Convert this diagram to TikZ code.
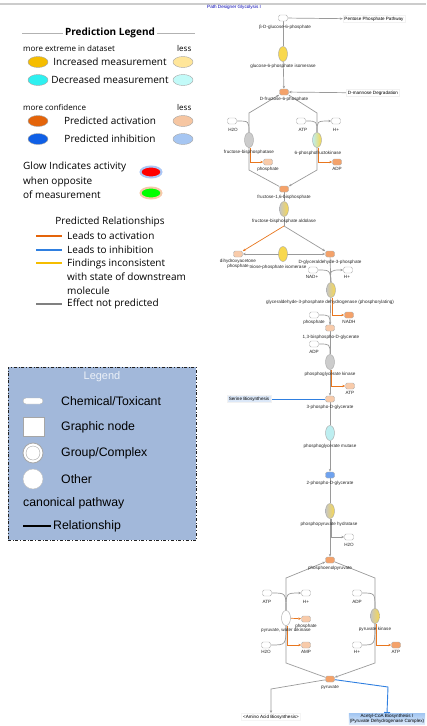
\documentclass[tikz,border=0pt]{standalone}
\usepackage{fontspec}
\setmainfont{Liberation Sans}
\newfontfamily\legfont{Open Sans}
\usetikzlibrary{shapes,arrows.meta,positioning,backgrounds,calc}

\definecolor{incdark}{HTML}{F5BD00}
\definecolor{inclight}{HTML}{FFE69A}
\definecolor{decdark}{HTML}{2EF0F0}
\definecolor{declight}{HTML}{C2FAF8}
\definecolor{actdark}{HTML}{E4640A}
\definecolor{actlight}{HTML}{F6C6A2}
\definecolor{inhdark}{HTML}{0F5FE6}
\definecolor{inhlight}{HTML}{A6C6F2}
\definecolor{legbox}{HTML}{A2B8DA}
\definecolor{molorange}{HTML}{F4A26A}
\definecolor{mollight}{HTML}{F8CBAA}
\definecolor{molblue}{HTML}{6FA2EE}
\definecolor{enzyellow}{HTML}{F8D84E}
\definecolor{enzcyan}{HTML}{BDEEF0}
\definecolor{linkgray}{HTML}{9A9A9A}
\definecolor{linkorange}{HTML}{E8761E}
\definecolor{linkblue}{HTML}{2F7FE0}
\definecolor{pathblue}{HTML}{DCE8F8}

\tikzset{
  meas/.style={ellipse, minimum width=20pt, minimum height=11pt, inner sep=0pt, draw=gray!70, fill=#1},
  legtext/.style={font=\legfont\fontsize{10}{14.5}\selectfont, inner sep=0pt},
  smalltext/.style={font=\legfont\fontsize{8}{9.6}\selectfont, anchor=west, inner sep=0pt},
  boxtext/.style={font=\fontsize{12.3}{14}\selectfont, anchor=west, inner sep=0pt},
  rel/.style={line width=2pt, draw=#1},
  mol/.style={rectangle, rounded corners=1.5pt, minimum width=9pt, minimum height=6pt, inner sep=0pt, draw=gray!60, fill=#1},
  mol/.default=white,
  enz/.style={ellipse, minimum width=9pt, minimum height=15pt, inner sep=0pt, draw=gray!70, fill=#1},
  enz/.default=white,
  enzg/.style={ellipse, minimum width=9pt, minimum height=15pt, inner sep=0pt, draw=gray!70, left color=gray!45, right color=#1},
  lbl/.style={font=\fontsize{4.6}{5.4}\selectfont, inner sep=0pt, text=black!85},
  cpath/.style={font=\fontsize{4.6}{5.4}\selectfont, inner sep=1.5pt, draw=gray!10, fill=#1},
  link/.style={draw=linkgray, line width=0.7pt},
  actlink/.style={draw=linkorange, line width=0.7pt},
  inhlink/.style={draw=linkblue, line width=0.9pt},
}

\begin{document}
\begin{tikzpicture}[x=1pt, y=-1pt, >={Stealth[length=3pt,width=2.4pt]}]
\useasboundingbox (0,0) rectangle (426,726);

% Header
\draw[gray!40, line width=1.5pt] (0,4) -- (426,4);
\node[lbl, anchor=west, text=blue!70!black] (title) at (207,7) {Path Designer Glycolysis I};

% Prediction legend
\node[legtext, font=\legfont\bfseries\fontsize{10}{12}\selectfont] (predT) at (110,33) {Prediction Legend};
\coordinate (predL) at (22,33);
\coordinate (predR) at (195,33);
\draw[gray!60, line width=1pt] (predL) -- ([xshift=-2pt]predT.west);
\draw[gray!60, line width=1pt] ([xshift=2pt]predT.east) -- (predR);

\node[smalltext] (extT) at (23,48) {more extreme in dataset};
\node[smalltext] (extL) at (177,48) {less};
\foreach \name/\y/\dark/\light/\txt in {inc/62/incdark/inclight/Increased measurement,
                                        dec/80/decdark/declight/Decreased measurement,
                                        act/121/actdark/actlight/Predicted activation,
                                        inh/139/inhdark/inhlight/Predicted inhibition} {
  \node[meas=\dark] (\name D) at (38,\y) {};
  \node[legtext] (\name T) at (110,\y) {\txt};
  \node[meas=\light] (\name L) at (183,\y) {};
}
\node[smalltext] (confT) at (23,107) {more confidence};
\node[smalltext] (confL) at (177,107) {less};

% Glow
\node[legtext, anchor=west, align=left] (glowT) at (23,180.5) {Glow Indicates activity\\when opposite\\of measurement};
\node[meas=red, draw=inhdark!35, line width=2pt, minimum width=21pt] (glowR) at (151,172) {};
\node[meas=green, draw=actdark!35, line width=2pt, minimum width=21pt] (glowG) at (151,193) {};

% Predicted relationships
\node[legtext] (relT) at (110,222) {Predicted Relationships};
\foreach \y/\col in {236/actdark, 250/linkblue, 263/incdark, 304/gray}
  \draw[rel=\col] (36,\y) -- (62,\y);
\node[legtext, anchor=west] (relA) at (67,236) {Leads to activation};
\node[legtext, anchor=west] (relI) at (67,250) {Leads to inhibition};
\node[legtext, anchor=west, align=left, font=\legfont\fontsize{10}{14}\selectfont] (relF) at (67,277) {Findings inconsistent\\with state of downstream\\molecule};
\node[legtext, anchor=west] (relN) at (67,304) {Effect not predicted};

% Shape legend
\node[draw=gray!25!black, dash dot, line width=0.7pt, fill=legbox, minimum width=188pt, minimum height=173pt, inner sep=0pt] (legbox) at (102,453.5) {};
\node[font=\fontsize{11}{13}\selectfont, text=white!80!legbox, inner sep=0pt] (legT) at (102,377) {Legend};
\node[mol, minimum width=20pt, minimum height=6pt, rounded corners=3pt] (chemI) at (33,401) {};
\node[rectangle, draw=gray!70, fill=white, minimum width=21pt, minimum height=19pt, inner sep=0pt] (graphI) at (33.5,427) {};
\node[circle, draw=gray!70, fill=white, minimum size=20pt, inner sep=0pt, line width=0.8pt] (groupI) at (33,453) {};
\node[circle, draw=gray!70, minimum size=14pt, inner sep=0pt] (groupJ) at (33,453) {};
\node[circle, draw=gray!50, fill=white, minimum size=20pt, inner sep=0pt] (otherI) at (33,479) {};
\node[boxtext] (chemT) at (61,401) {Chemical/Toxicant};
\node[boxtext] (graphT) at (61,427) {Graphic node};
\node[boxtext] (groupT) at (61,453) {Group/Complex};
\node[boxtext] (otherT) at (61,479) {Other};
\node[boxtext] (canT) at (23,503) {canonical pathway};
\draw[black, line width=1.3pt] (23,526) -- (51,526);
\node[boxtext] (relshipT) at (53,526) {Relationship};

% Upper glycolysis
\node[mol] (b6p) at (283,18) {};
\node[lbl] (b6pL) at (285,27) {β-D-glucose-6-phosphate};
\node[cpath=white] (ppp) at (374,19) {Pentose Phosphate Pathway};
\node[enz=enzyellow] (gpi) at (283,54) {};
\node[lbl] (gpiL) at (283,66) {glucose-6-phosphate isomerase};
\node[mol=molorange] (f6p) at (284,92) {};
\node[lbl] (f6pL) at (284,99) {D-fructose-6-phosphate};
\node[cpath=white] (mann) at (373,93) {D-mannose Degradation};

\coordinate (fbpT) at (249,113);
\coordinate (pfkT) at (317,113);
\coordinate (fbpB) at (249,170);
\coordinate (pfkB) at (317,170);
\node[mol] (h2oA) at (232,121) {};
\node[lbl] (h2oAL) at (233,130) {H2O};
\node[mol] (atpA) at (301,121) {};
\node[lbl] (atpAL) at (303,130) {ATP};
\node[mol] (hA) at (336,121) {};
\node[lbl] (hAL) at (336,130) {H+};
\node[enz=gray!40] (fbp) at (249,140) {};
\node[lbl] (fbpL) at (249,152) {fructose-bisphosphatase};
\node[enz, left color=enzcyan, right color=enzyellow] (pfk) at (317,140) {};
\node[lbl] (pfkL) at (318,153) {6-phosphofructokinase};
\node[mol=mollight] (piA) at (268,162) {};
\node[lbl] (piAL) at (268,169) {phosphate};
\node[mol=molorange] (adpA) at (337,162) {};
\node[lbl] (adpAL) at (337,169) {ADP};
\node[mol=molorange] (f16bp) at (284,189) {};
\node[lbl] (f16bpL) at (284,197) {fructose-1,6-bisphosphate};

\node[enzg=enzyellow] (ald) at (284,209) {};
\node[lbl] (aldL) at (284,221) {fructose-bisphosphate aldolase};
\coordinate (aldB) at (284,226);
\node[mol=mollight] (dhap) at (238,254) {};
\node[lbl, align=center] (dhapL) at (238,264) {dihydroxyacetone\\phosphate};
\node[enz=enzyellow] (tpi) at (283,254) {};
\node[lbl] (tpiL) at (278,267) {triose-phosphate isomerase};
\node[mol=molorange] (gap) at (330,254) {};
\node[lbl] (gapL) at (330,262) {D-glyceraldehyde-3-phosphate};

% Lower glycolysis
\node[mol] (nad) at (313,270) {};
\node[lbl] (nadL) at (312,277) {NAD+};
\node[mol] (hB) at (348,270) {};
\node[lbl] (hBL) at (347,277) {H+};
\node[enzg=enzyellow] (gapdh) at (331,290) {};
\node[lbl] (gapdhL) at (330,302) {glyceraldehyde-3-phosphate dehydrogenase (phosphorylating)};
\node[mol] (piB) at (314,315) {};
\node[lbl] (piBL) at (314,322) {phosphate};
\node[mol=molorange] (nadh) at (349,315) {};
\node[lbl] (nadhL) at (349,322) {NADH};
\node[mol=mollight] (bpg) at (330,328) {};
\node[lbl] (bpgL) at (331,337) {1,3-bisphospho-D-glycerate};
\node[mol] (adpB) at (314,344) {};
\node[lbl] (adpBL) at (314,352) {ADP};
\node[enz=gray!40] (pgk) at (330,362) {};
\node[lbl] (pgkL) at (330,374) {phosphoglycerate kinase};
\node[mol=mollight] (atpB) at (350,386) {};
\node[lbl] (atpBL) at (350,393) {ATP};
\node[mol=mollight] (pg3) at (330,399) {};
\node[lbl] (pg3L) at (330,407) {3-phospho-D-glycerate};
\node[cpath=pathblue] (ser) at (249,399) {Serine Biosynthesis};
\node[enz=enzcyan] (pgm) at (330,433) {};
\node[lbl] (pgmL) at (330,446) {phosphoglycerate mutase};
\node[mol=molblue] (pg2) at (330,475) {};
\node[lbl] (pg2L) at (330,483) {2-phospho-D-glycerate};
\node[enzg=enzyellow] (eno) at (330,511) {};
\node[lbl] (enoL) at (329,524) {phosphopyruvate hydratase};
\node[mol] (h2oB) at (349,537) {};
\node[lbl] (h2oBL) at (349,545) {H2O};
\node[mol=molorange] (pep) at (330,560) {};
\node[lbl] (pepL) at (330,568) {phosphoenolpyruvate};

% Pyruvate branch
\coordinate (ppdkT) at (286,578);
\coordinate (pkT) at (375,578);
\coordinate (ppdkB) at (286,663);
\coordinate (pkB) at (375,663);
\node[mol] (atpC) at (267,593) {};
\node[lbl] (atpCL) at (267,602) {ATP};
\node[mol] (hC) at (306,593) {};
\node[lbl] (hCL) at (306,602) {H+};
\node[mol] (adpC) at (357,593) {};
\node[lbl] (adpCL) at (357,602) {ADP};
\node[enz=white] (ppdk) at (286,618) {};
\node[lbl] (ppdkL) at (286,630.5) {pyruvate, water dikinase};
\node[mol=mollight] (piC) at (306,619) {};
\node[lbl] (piCL) at (306,626) {phosphate};
\node[enzg=enzyellow] (pk) at (375,616) {};
\node[lbl] (pkL) at (375,629) {pyruvate kinase};
\node[mol] (h2oC) at (266,645) {};
\node[lbl] (h2oCL) at (266,652) {H2O};
\node[mol=mollight] (ampC) at (306,645) {};
\node[lbl] (ampCL) at (306,652) {AMP};
\node[mol] (hD) at (357,645) {};
\node[lbl] (hDL) at (357,652) {H+};
\node[mol=molorange] (atpD) at (396,645) {};
\node[lbl] (atpDL) at (396,652) {ATP};
\node[mol=molorange] (pyr) at (330,679) {};
\node[lbl] (pyrL) at (330,687) {pyruvate};
\coordinate (aabC) at (271,689);
\coordinate (acC) at (388,687);
\node[cpath=white, draw=gray!8] (aab) at (271,717) {<Amino Acid Biosynthesis>};
\node[cpath, draw=none, top color=linkblue!45, bottom color=linkblue!15, align=center, inner sep=1pt] (acoa) at (387,719) {Acetyl-CoA Biosynthesis I\\(Pyruvate Dehydrogenase Complex)};

% Connectors
\begin{scope}[on background layer]
  \draw[link] (b6p) -- (gpi);
  \draw[link,->] (gpi) -- (f6p);
  \draw[link,->] (b6p) -- (ppp);
  \draw[link,->] (mann) -- (f6p);
  \draw[link,->] (f16bp) -- (fbpB) -- (fbpT) -- (f6p);
  \draw[link,->] (f6p) -- (pfkT) -- (pfkB) -- (f16bp);
  \draw[link] (h2oA) .. controls (249,121) .. (fbp.north);
  \draw[link] (atpA) .. controls (317,121) .. (pfk.north);
  \draw[link,->] (pfk.north) .. controls (317,121) .. (hA);
  \draw[actlink,->] ([xshift=1.5pt]fbp.south) |- (piA.west);
  \draw[actlink,->] ([xshift=1.5pt]pfk.south) |- (adpA.west);
  \draw[link] (f16bp) -- (ald) -- (aldB);
  \draw[actlink,->] (aldB) -- (dhap);
  \draw[link,->] (aldB) -- (gap);
  \draw[link,<->] (dhap) -- (gap);
  \draw[link] (gap) -- (gapdh);
  \draw[link] (nad) .. controls (330,270) .. (gapdh.north);
  \draw[link,->] (gapdh.north) .. controls (330,270) .. (hB);
  \draw[link,->] (gapdh) -- (bpg);
  \draw[link] (piB) .. controls (330,315) .. (bpg.north);
  \draw[actlink,->] ([xshift=1.5pt]gapdh.south) |- (nadh.west);
  \draw[link] (bpg) -- (pgk);
  \draw[link] (adpB) .. controls (330,344) .. (pgk.north);
  \draw[actlink,->] ([xshift=1.5pt]pgk.south) |- (atpB.west);
  \draw[link,->] (pgk) -- (pg3);
  \draw[inhlink,-{Bar[width=6pt]}] (pg3) -- (ser);
  \draw[link] (pg3) -- (pgm);
  \draw[link,->] (pgm) -- (pg2);
  \draw[link] (pg2) -- (eno);
  \draw[link,->] ([xshift=1pt]eno.south) |- (h2oB.west);
  \draw[link,->] (eno) -- (pep);
  \draw[link,<-] (pep) -- (ppdkT) -- (ppdkB) -- (pyr);
  \draw[link,->] (pep) -- (pkT) -- (pkB) -- (pyr);
  \draw[link] (atpC) .. controls (286,593) .. (ppdk.north);
  \draw[link,->] (ppdk.north) .. controls (286,593) .. (hC);
  \draw[link] (adpC) .. controls (375,593) .. (pk.north);
  \draw[actlink,->] (ppdk) -- (piC);
  \draw[link] (h2oC) .. controls (286,645) .. (ppdk.south);
  \draw[actlink,->] ([xshift=1.5pt]ppdk.south) |- (ampC.west);
  \draw[link] (hD) .. controls (375,645) .. (pk.south);
  \draw[actlink,->] ([xshift=1.5pt]pk.south) |- (atpD.west);
  \draw[link,->] (pyr) -- (aabC) -- (aab);
  \draw[inhlink,-{Bar[width=6pt]}] (pyr) -- (acC) -- (acoa.north);
\end{scope}

\end{tikzpicture}
\end{document}
